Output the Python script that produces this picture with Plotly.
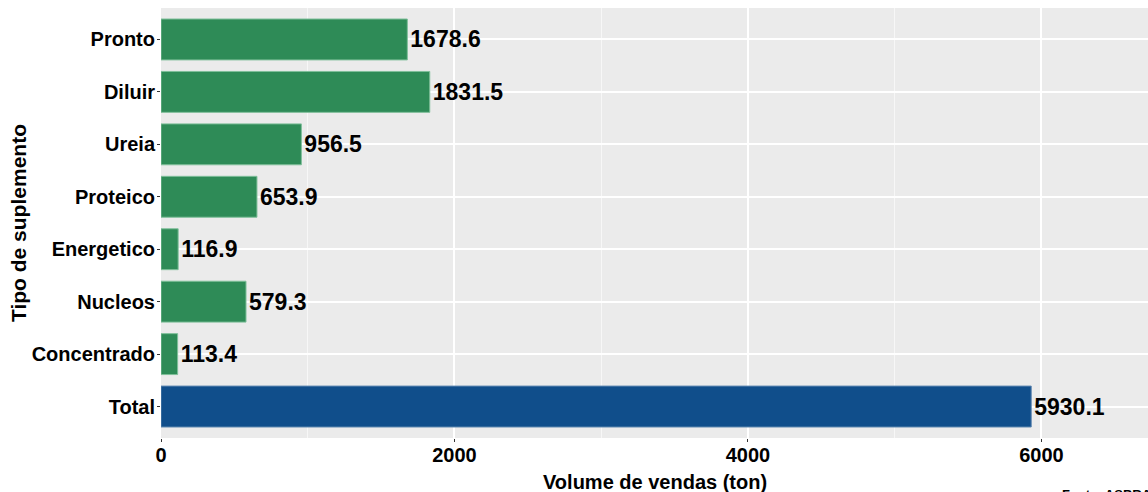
import plotly.graph_objects as go

categories = ["Pronto", "Diluir", "Ureia", "Proteico", "Energetico", "Nucleos", "Concentrado", "Total"]
values = [1678.6, 1831.5, 956.5, 653.9, 116.9, 579.3, 113.4, 5930.1]
labels = ["1678.6", "1831.5", "956.5", "653.9", "116.9", "579.3", "113.4", "5930.1"]
colors = ["#2E8B57"] * 7 + ["#104E8B"]
line_colors = ["#7FBF9A"] * 7 + ["#5C86B0"]
x_ticks = [0, 2000, 4000, 6000]

FONT = "Liberation Sans, Arial, sans-serif"

fig = go.Figure()
fig.add_trace(go.Bar(
    y=categories, x=values, orientation="h",
    marker=dict(color=colors, line=dict(color=line_colors, width=1)),
    width=0.78, hoverinfo="skip", showlegend=False,
    text=labels, textposition="outside", constraintext="none", cliponaxis=False,
    outsidetextfont=dict(family=FONT, size=23, color="black", weight="bold"),
))

fig.update_layout(
    width=1148, height=492,
    margin=dict(l=161, r=0, t=8, b=54),
    paper_bgcolor="white", plot_bgcolor="#EBEBEB",
    font=dict(family=FONT, color="black"),
    xaxis=dict(
        range=[0, 6726], tickvals=x_ticks, ticktext=[str(t) for t in x_ticks],
        showgrid=True, gridcolor="white", gridwidth=1.6,
        minor=dict(tickvals=[1000, 3000, 5000], showgrid=True, gridcolor="#F7F7F7", gridwidth=0.8),
        ticks="outside", ticklen=3, tickcolor="#333333", tickwidth=1,
        ticklabelstandoff=-4,
        tickfont=dict(family=FONT, size=20, color="black", weight="bold"),
        zeroline=False, showline=False,
    ),
    yaxis=dict(
        categoryorder="array", categoryarray=categories[::-1],
        range=[-0.6, 7.6],
        showgrid=True, gridcolor="white", gridwidth=1.6,
        ticks="outside", ticklen=3, tickcolor="#333333", tickwidth=1,
        ticklabelstandoff=-2,
        tickfont=dict(family=FONT, size=20, color="black", weight="bold"),
        zeroline=False, showline=False,
    ),
    annotations=[
        dict(text="Volume de vendas (ton)", xref="paper", yref="paper", x=0.5, y=-0.1023,
             xanchor="center", yanchor="middle", showarrow=False,
             font=dict(family=FONT, size=20, color="black", weight="bold")),
        dict(text="Tipo de suplemento", xref="paper", yref="paper", x=0, y=0.5, xshift=-143,
             xanchor="center", yanchor="middle", textangle=-90, showarrow=False,
             font=dict(family=FONT, size=21, color="black", weight="bold")),
        dict(text="Fonte: ASBRAM", xref="paper", yref="paper", x=0.911, y=-0.109,
             xanchor="left", yanchor="top", showarrow=False,
             font=dict(family=FONT, size=13, color="black", weight="bold")),
    ],
)

fig.write_html("out.html", config={"displayModeBar": False},
               post_script="document.body.style.margin='0';document.body.style.overflow='hidden';")
